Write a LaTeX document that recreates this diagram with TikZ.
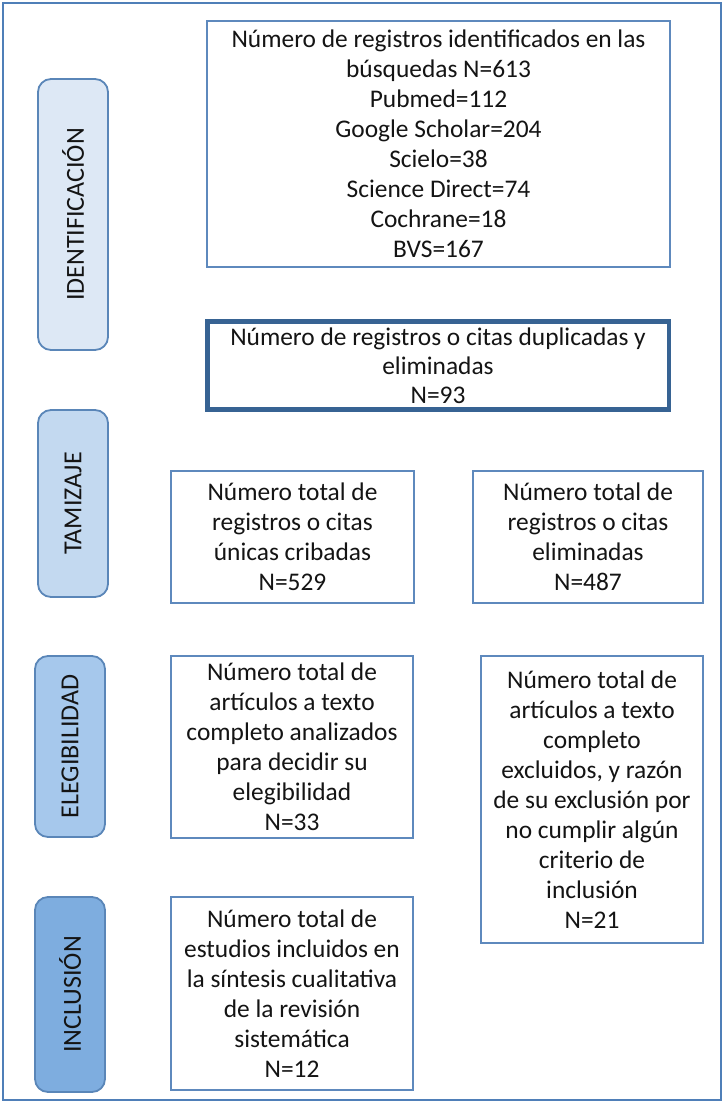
\documentclass[tikz,border=0pt]{standalone}
\usepackage{fontspec}
\setmainfont{Carlito}
\definecolor{frameblue}{HTML}{4F7FB8}
\definecolor{boxblue}{HTML}{5E89BD}
\definecolor{thickblue}{HTML}{376393}
\definecolor{sideA}{HTML}{DDE8F5}
\definecolor{sideB}{HTML}{C3D9F0}
\definecolor{sideC}{HTML}{A6C8EC}
\definecolor{sideD}{HTML}{7EADDF}
\definecolor{sideline}{HTML}{5A86B8}
\definecolor{txt}{HTML}{141414}
\tikzset{
  sidebox/.style={draw=sideline, line width=1.8pt, rounded corners=13pt, rotate=90,
    minimum height=70pt, inner sep=0pt, text=txt, font=\fontsize{26}{30}\selectfont},
  mainbox/.style={draw=boxblue, line width=1.4pt, fill=white, align=center, inner sep=0pt,
    text=txt, font=\fontsize{25.4}{30}\selectfont},
  thickbox/.style={mainbox, draw=thickblue, line width=4.5pt, font=\fontsize{25.4}{29}\selectfont}
}
\begin{document}
\begin{tikzpicture}[x=1pt,y=-1pt]
\useasboundingbox (0,0) rectangle (726,1103);
\node[draw=frameblue, line width=2pt, minimum width=718pt, minimum height=1097pt, inner sep=0pt] (frame) at (361.5,551.5) {};
% side labels
\node[sidebox, fill=sideA, minimum width=271pt] (ident) at (73,214.5) {IDENTIFICACIÓN};
\node[sidebox, fill=sideB, minimum width=187pt] (tamiz) at (73,503.5) {TAMIZAJE};
\node[sidebox, fill=sideC, minimum width=181pt] (eleg) at (70,746.5) {ELEGIBILIDAD};
\node[sidebox, fill=sideD, minimum width=195pt] (incl) at (70,994.5) {INCLUSIÓN};
% main boxes
\node[mainbox, minimum width=463pt, minimum height=246pt] (b1) at (438.5,144)
  {Número de registros identificados en las\\búsquedas N=613\\Pubmed=112\\Google Scholar=204\\Scielo=38\\Science Direct=74\\Cochrane=18\\BVS=167};
\node[thickbox, minimum width=461.5pt, minimum height=88pt] (b2) at (438,365.5)
  {Número de registros o citas duplicadas y\\eliminadas\\N=93};
\node[mainbox, minimum width=243pt, minimum height=132pt] (b3) at (292.5,537)
  {Número total de\\registros o citas\\únicas cribadas\\N=529};
\node[mainbox, minimum width=230pt, minimum height=132pt] (b4) at (588,537)
  {Número total de\\registros o citas\\eliminadas\\N=487};
\node[mainbox, minimum width=242pt, minimum height=182pt] (b5) at (292,747)
  {Número total de\\artículos a texto\\completo analizados\\para decidir su\\elegibilidad\\N=33};
\node[mainbox, minimum width=222pt, minimum height=287pt] (b6) at (592,799.5)
  {Número total de\\artículos a texto\\completo\\excluidos, y razón\\de su exclusión por\\no cumplir algún\\criterio de\\inclusión\\N=21};
\node[mainbox, minimum width=242pt, minimum height=193pt] (b7) at (292,993.5)
  {Número total de\\estudios incluidos en\\la síntesis cualitativa\\de la revisión\\sistemática\\N=12};
\end{tikzpicture}
\end{document}
